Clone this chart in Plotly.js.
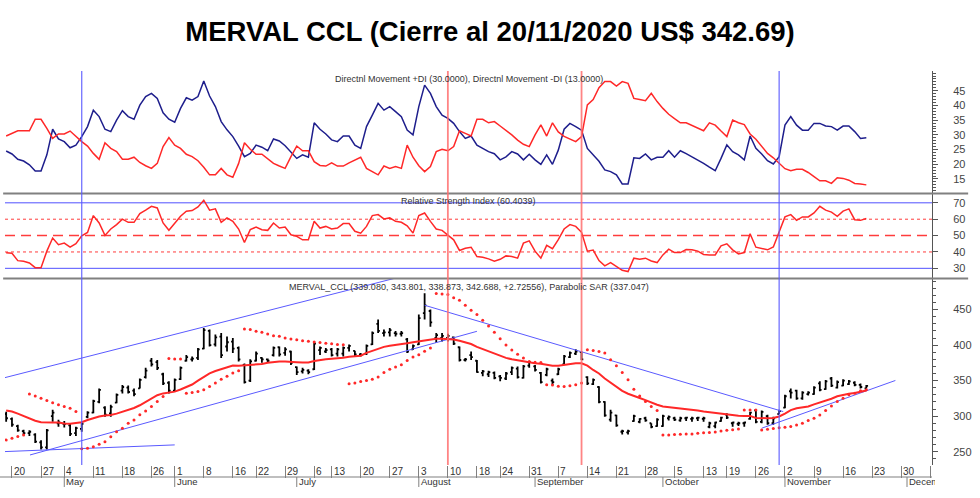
<!DOCTYPE html>
<html>
<head>
<meta charset="utf-8">
<script src="https://cdn.plot.ly/plotly-3.0.1.min.js"></script>
<style>html,body{margin:0;padding:0;background:#fff;}#chart{width:980px;height:498px;}</style>
</head>
<body>
<div id="chart"></div>
<script>
// ---- DATA (trading-day index: -1 = 17 Apr 2020, 0 = 20 Apr 2020 ... 147 = 20 Nov 2020) ----
const firstDay = -1;

const open = [303,296,286,279,276,274,263,256,300,290,289,
287,276,282,299,305,320,312,304,319,336,
340,336,339,355,378,376,359,347,336,352,
378,380,382,395,420,401,412,398,405,396,
372,350,378,382,380,386,397,389,391,369,
363,364,366,393,391,394,388,388,396,392,
387,388,401,430,417,418,417,416,408,394,
401,445,448,410,410,410,411,397,379,386,
378,361,359,361,356,353,362,367,354,371,
370,361,358,350,359,373,383,388,390,355,
345,341,320,295,301,278,277,293,292,297,
290,286,286,297,297,294,297,296,297,296,
285,286,293,302,290,289,290,296,308,292,
300,290,303,312,335,336,325,331,331,346,
338,353,340,343,345,347,344,339.08];

const high = [306,298,288,281,280,276,266,282,309,295,293,
290,285,292,307,323,339,314,316,332,344,
343,339,353,368,382,379,361,349,353,370,
386,384,396,424,422,415,417,412,410,398,
374,380,391,383,381,398,398,397,392,370,
368,366,405,398,396,396,396,398,401,392,
389,401,419,436,422,424,420,420,410,401,
443,473,450,417,417,416,412,398,382,391,
379,365,364,363,358,362,370,370,372,377,
372,362,368,353,368,386,391,394,391,356,
353,342,321,309,302,281,281,302,297,299,
290,297,302,301,299,299,299,299,299,299,
292,292,299,304,292,292,292,306,309,308,
302,299,309,330,339,337,335,335,342,349,
351,355,350,352,351,349,346,343.80];

const low = [292,285,278,273,272,262,253,253,292,285,284,
272,272,278,297,304,318,299,299,318,332,
332,328,339,353,370,365,344,332,335,351,
377,377,379,394,398,398,382,391,389,377,
346,348,377,375,376,384,384,385,372,358,
360,359,365,386,389,384,384,384,391,384,
384,386,400,417,412,412,412,412,389,393,
400,436,426,403,405,405,400,377,377,379,
361,356,355,352,349,351,358,353,353,368,
363,346,356,344,358,372,382,386,379,344,
344,318,299,292,285,274,274,292,290,292,
283,285,285,294,293,292,293,292,293,292,
283,283,292,296,285,286,285,295,290,290,
288,288,303,311,325,323,323,329,330,335,
337,341,339,342,344,342,339,338.87];

const close = [297,288,280,276,278,264,256,280,305,291,289,
275,283,289,305,321,337,302,313,330,341,
334,331,351,364,373,368,346,336,351,368,
383,381,394,421,400,411,386,404,395,380,
348,377,388,380,378,396,387,394,375,362,
365,362,402,396,393,386,394,396,399,387,
386,399,417,420,418,421,416,417,391,399,
438,456,432,414,413,413,402,379,380,383,
362,363,362,354,354,360,368,355,370,376,
365,348,366,348,366,384,389,391,380,346,
351,320,301,305,287,279,279,300,296,294,
285,295,300,299,295,297,298,297,298,297,
290,291,298,298,291,290,291,305,292,306,
290,297,307,328,333,325,333,333,340,337,
349,343,348,350,349,344,341,342.69];

const movingAvg = [308,306.4,303.5,300.3,297,293.5,291.5,290.9,290.9,290.9,289.5,
289.2,290,291.5,294.5,297,299.5,300.8,301.5,303.5,306,
308.5,311.5,315.3,320,325,329.5,332,333,334.5,337.5,
341.5,344.5,350,355.5,360.3,363.5,366.3,369.5,371.2,370.9,
371.5,372.3,373,373.5,375,376.5,377,377,377,376,
375.6,375.6,377.5,379.3,380.2,380.8,381.3,382.3,383.6,384.5,
385,389,392,395,397.5,399,400,400.8,402.5,404,
405.3,407.2,408.5,409,409,408.7,408,406,403.5,401.5,
397.5,394.5,391,387.8,384.5,382,380,378.5,377,375.8,
374.5,373.7,372,370.9,370.9,372,373.6,374.3,374.5,371,
365,360,353,347.5,341.5,335.5,331.5,328,325.6,322.5,
319,316,313.5,312.6,311.8,311.1,310.4,309.5,308,306.5,
305.5,304.5,303,301.8,301,300.5,300.3,300.3,297.5,297,
297,297.5,299.5,303.5,308.5,311,312.5,313.5,316.5,319,
321.6,324.5,328,330,331.5,332.7,334.5,336];

const parabolicSar = [266.5,268.8,271.2,273.5,331,328.5,325.3,322,319,316,313.5,
311,306.5,254,254.7,257,260.3,264,271,278,283,
290,294.7,301.8,307.4,313.5,320.6,327.6,381,380.5,380.3,
332.3,333.3,334.7,337,341.8,346.5,352,356,360.6,364,
422.7,421.8,419.4,418,415.6,413.3,412.4,410,408.6,407.6,
406.2,405.3,404.3,403.5,402.5,402,401,400.5,345.5,346.5,
348.8,350.2,352.1,355,361.5,366,369,372.3,378.4,383.2,
386.5,391.2,395.8,472.5,472.1,471.2,466.5,463.2,456,449,
443,435,427,418,409,400,393,387,381.7,377,
376,375.6,344.1,344,342,341.8,342.7,344.1,346.5,393.5,
392.5,391.1,388.8,379.4,370.9,361.5,351.1,337.9,328.5,320.5,
313.5,307.8,273.5,273.5,274,274.4,274.9,275,275.8,276.5,
277,277.8,279,280,281,282,308.8,308.8,308.5,280.5,
281.5,282.5,283.5,284.3,285.3,287.6,290,293.7,297,301.7,
307.8,314.4,320.5,325.3,330,332.3,335.6,337.0];

const plusDI = [24.5,23.5,21.7,21.1,19.8,17.7,17.7,23.2,31.9,28.6,27.7,
25.6,26.5,29.4,32.8,38.4,36.2,31.9,31.1,35.0,38.2,
36.2,35.3,40.1,43.0,44.1,42.4,37.5,35.3,34.3,39.0,
42.6,41.8,43.0,48.3,43.2,39.6,34.5,31.7,29.4,26.2,
22.6,23.7,26.5,25.8,24.6,28.6,27.9,26.3,24.3,22.0,
23.2,22.4,34.1,31.9,30.3,28.3,27.7,29.6,29.6,26.5,
25.4,32.8,36.7,40.7,38.4,39.6,37.9,36.2,31.6,30.0,
39.6,46.9,44.1,39.6,36.7,35.6,33.9,31.1,28.8,29.6,
26.5,25.4,24.3,23.6,21.5,22.5,24.3,23.5,21.5,23.4,
21.5,20.0,23.2,20.0,24.8,31.9,33.9,32.8,31.6,25.4,
23.2,21.0,18.1,17.5,16.4,13.3,13.3,22.2,22.0,23.5,
21.5,22.4,22.4,24.6,22.4,24.6,23.6,22.5,21.5,20.3,
19.0,17.8,22.0,26.6,24.3,23.2,21.5,29.6,25.4,23.5,
21.2,20.1,22.6,33.3,36.2,33.3,31.6,31.6,33.9,33.9,
33.0,32.8,31.6,33.0,33.0,31.1,28.8,29.0];

const minusDI = [29.6,30.5,31.4,31.4,31.4,35.3,35.3,32.2,28.8,30.3,30.3,
31.3,29.4,27.7,26.2,23.7,21.7,27.3,25.4,24.3,21.7,
21.7,22.4,20.6,19.5,18.6,20.3,26.0,29.1,26.5,25.4,
23.4,22.6,21.2,19.0,16.4,16.4,18.6,16.4,15.6,20.3,
27.3,25.1,23.4,23.4,22.0,20.3,19.4,18.6,22.6,26.2,
24.6,24.6,20.9,19.6,19.4,20.5,19.4,19.4,20.5,21.5,
22.4,18.6,17.5,16.4,19.4,18.6,19.2,18.6,26.5,22.4,
19.5,17.5,19.2,24.3,25.1,24.6,26.0,31.4,30.5,29.6,
35.3,35.3,34.1,34.5,33.0,31.6,30.0,28.2,26.8,26.0,
30.0,33.4,29.6,34.1,31.0,29.5,28.5,27.7,29.4,40.2,
42.0,46.0,48.1,48.1,46.6,48.1,47.5,42.4,42.0,41.6,
44.1,41.3,39.0,37.0,35.5,34.1,34.1,33.2,32.3,31.4,
34.1,33.3,31.3,29.4,35.0,34.1,33.5,30.3,28.5,26.0,
23.7,22.2,20.2,18.5,17.8,18.3,18.3,17.2,15.8,14.4,
14.4,13.5,15.4,15.2,14.6,13.5,13.3,13.0];

const rsi = [39.5,39.2,34.7,34.3,33.3,30.4,30.4,40.5,48.5,44.4,45.4,
42.9,45.0,49.9,51.9,62.2,57.7,50.1,54.0,56.7,60.0,
58.1,58.1,63.4,65.5,67.9,66.9,57.7,53.2,57.7,61.8,
64.9,65.3,67.5,71.6,65.5,66.3,58.1,60.8,58.7,54.0,
45.8,53.6,55.2,53.6,53.2,57.7,54.6,55.2,50.5,49.5,
47.4,47.4,58.7,54.6,55.6,54.0,54.6,57.3,57.3,52.6,
51.5,55.6,62.2,62.8,60.2,60.8,58.7,58.1,56.0,51.5,
62.2,63.8,58.7,54.0,53.2,50.5,47.4,40.9,42.3,42.9,
37.2,36.8,35.8,34.3,35.5,37.6,37.2,36.2,45.4,46.8,
40.5,36.2,44.0,42.0,47.5,54.0,56.7,55.6,52.0,40.5,
41.2,34.7,31.5,33.5,31.4,28.8,28.0,36.2,35.5,36.2,
34.5,33.5,38.2,41.7,39.6,39.6,41.5,41.4,40.5,38.5,
38.2,38.2,43.7,45.0,41.3,38.8,39.6,51.1,42.9,42.3,
41.3,43.0,52.0,61.4,62.8,59.3,61.4,61.4,63.8,67.9,
65.5,64.3,61.8,64.9,66.3,59.7,59.3,60.4];

// drawn trend lines: start/end day index and price
const trendStartDay = [-1.5, 3.1, -1.5, 71, 129];
const trendStartVal = [353.6, 245.3, 250.0, 456.1, 283.0];
const trendEndDay   = [70, 80, 28, 132.7, 152];
const trendEndVal   = [502.7, 419.4, 259.5, 306.4, 350.2];

// signal lines (vertical)
const signalDays = [12, 75, 98, 132];
const signalType = ['buy', 'sell', 'sell', 'buy'];

// x axis: week starts and labels
const weekTickDays = [0,5,9,14,19,24,28,33,38,42,47,52,55,60,65,70,75,80,84,89,94,99,104,109,114,119,123,128,133,138,143,148,153,158];
const weekTickLabels = ['20','27','4','11','18','26','1','8','16','22','29','6','13','20','27','3','10','18','24','31','7','14','21','28','5','13','19','26','2','9','16','23','30',''];
const monthStartDays = [9, 28, 49, 70, 90, 112, 133, 154];
const monthNames = ['May','June','July','August','September','October','November','December'];

const titleText = 'MERVAL CCL (Cierre al 20/11/2020 US$ 342.69)';
const dmiLabel = 'Directnl Movement +DI (30.0000), Directnl Movement -DI (13.0000)';
const rsiLabel = 'Relative Strength Index (60.4039)';
const priceLabel = 'MERVAL_CCL (339.080, 343.801, 338.873, 342.688, +2.72556), Parabolic SAR (337.047)';

// ---- BUILD ----
const x = close.map((_, i) => firstDay + i);
const FONT = 'Liberation Sans, Arial, sans-serif';
const RED = 'rgb(255,40,40)';
const NAVY = 'rgb(30,30,140)';
const BLUE_LINE = 'rgb(90,90,255)';

const trendX = [], trendY = [];
trendStartDay.forEach((d, i) => {
  trendX.push(d, trendEndDay[i], null);
  trendY.push(trendStartVal[i], trendEndVal[i], null);
});

const traces = [
  {type:'scatter', mode:'lines', x:x, y:plusDI, xaxis:'x', yaxis:'y', line:{color:NAVY, width:1.5}, hoverinfo:'skip'},
  {type:'scatter', mode:'lines', x:x, y:minusDI, xaxis:'x', yaxis:'y', line:{color:RED, width:1.5}, hoverinfo:'skip'},
  {type:'scatter', mode:'lines', x:x, y:rsi, xaxis:'x', yaxis:'y2', line:{color:RED, width:1.5}, hoverinfo:'skip'},
  {type:'scatter', mode:'lines', x:trendX, y:trendY, xaxis:'x', yaxis:'y3', line:{color:BLUE_LINE, width:1}, hoverinfo:'skip', connectgaps:false},
  {type:'scatter', mode:'lines', x:x, y:movingAvg, xaxis:'x', yaxis:'y3', line:{color:RED, width:2}, hoverinfo:'skip'},
  {type:'scatter', mode:'markers', x:x, y:parabolicSar, xaxis:'x', yaxis:'y3', marker:{color:RED, size:3}, hoverinfo:'skip'},
  {type:'ohlc', x:x, open:open, high:high, low:low, close:close, xaxis:'x', yaxis:'y3',
   increasing:{line:{color:'#000', width:1.8}}, decreasing:{line:{color:'#000', width:1.8}},
   tickwidth:0.3, hoverinfo:'skip'}
];

const shapes = [];
// RSI reference lines
[[70,'solid','rgb(80,80,255)',1],[30,'solid','rgb(80,80,255)',1],
 [60,'dot','rgb(255,60,60)',1],[40,'dot','rgb(255,60,60)',1],[50,'10px,6px','rgb(255,60,60)',1.5]]
 .forEach(r => shapes.push({type:'line', xref:'paper', yref:'y2', x0:0, x1:1, y0:r[0], y1:r[0], layer:'below',
   line:{color:r[2], width:r[3], dash:r[1]}}));
// panel separators
[0.6891, 0.4734].forEach(p => shapes.push({type:'line', xref:'paper', yref:'paper', x0:-0.002, x1:1.039, y0:p, y1:p,
   line:{color:'#808080', width:2}}));
// x axis bottom line
shapes.push({type:'line', xref:'paper', yref:'paper', x0:-0.006, x1:1, y0:-0.0305, y1:-0.0305, line:{color:'#808080', width:1.2}});
// month separators
monthStartDays.forEach(d => shapes.push({type:'line', xref:'x', yref:'paper', x0:d, x1:d, y0:-0.0305, y1:-0.0558,
   line:{color:'#808080', width:1}}));
// signal vertical lines
signalDays.forEach((d, i) => shapes.push({type:'line', xref:'x', yref:'paper', x0:d, x1:d, y0:0, y1:1, layer:'above',
   line:{color: signalType[i] === 'buy' ? 'rgba(90,90,255,0.85)' : 'rgba(255,110,110,0.85)', width: signalType[i] === 'buy' ? 1.3 : 1.8}}));

const annotations = [];
const smallFont = {family:FONT, size:9, color:'#333'};
annotations.push({text:dmiLabel, xref:'paper', yref:'paper', x:0.5, y:0.9797, showarrow:false, font:smallFont, xanchor:'center', yanchor:'middle'});
annotations.push({text:rsiLabel, xref:'paper', yref:'paper', x:0.5, y:0.670, showarrow:false, font:smallFont, xanchor:'center', yanchor:'middle'});
annotations.push({text:priceLabel, xref:'paper', yref:'paper', x:0.5, y:0.4518, showarrow:false, font:smallFont, xanchor:'center', yanchor:'middle'});
weekTickDays.forEach((d, i) => {
  if (weekTickLabels[i]) annotations.push({text:weekTickLabels[i], xref:'x', yref:'paper', x:d, y:-0.0165, xanchor:'left', yanchor:'middle',
    xshift:0, showarrow:false, font:{family:FONT, size:10, color:'#333'}});
});
monthStartDays.forEach((d, i) => {
  const a = {text:monthNames[i], xref:'x', yref:'paper', x:d, y:-0.0431, xanchor:'left', yanchor:'middle',
    xshift:0, showarrow:false, align:'left', font:{family:FONT, size:9.5, color:'#333'}};
  if (i === monthNames.length - 1) { a.width = 26; }
  annotations.push(a);
});

const yCommon = {side:'right', anchor:'x', showgrid:false, zeroline:false, showline:true, linecolor:'#555', linewidth:1,
  ticks:'outside', ticklen:5, tickcolor:'#555', tickfont:{family:FONT, size:11, color:'#444'}, ticklabelstandoff:13, fixedrange:true};

const layout = {
  width:980, height:498,
  margin:{l:5, r:48, t:71, b:33},
  paper_bgcolor:'#fff', plot_bgcolor:'#fff',
  showlegend:false, hovermode:false,
  font:{family:FONT},
  title:{text:'<b>' + titleText + '</b>', font:{family:FONT, size:27.5, color:'#000'}, x:0.5, xref:'container', xanchor:'center',
    y:0.936, yref:'container', yanchor:'middle'},
  xaxis:{domain:[0,1], range:[-1.2, 158.3], anchor:'y3', showgrid:false, zeroline:false, showline:false,
    tickmode:'array', tickvals:weekTickDays, ticktext:weekTickDays.map(() => ''), showticklabels:false,
    ticks:'outside', ticklen:12, tickcolor:'#808080', tickwidth:1, rangeslider:{visible:false}, fixedrange:true},
  yaxis:Object.assign({}, yCommon, {domain:[0.6891,1], range:[10.07,51.7], tickmode:'array', tickvals:[15,20,25,30,35,40,45],
    minor:{tickmode:'linear', tick0:0, dtick:1, ticks:'outside', ticklen:3, tickcolor:'#555'}}),
  yaxis2:Object.assign({}, yCommon, {domain:[0.4734,0.6891], range:[23.8,75.7], tickmode:'array', tickvals:[30,40,50,60,70]}),
  yaxis3:Object.assign({}, yCommon, {domain:[0,0.4734], range:[231.2,493.8], tickmode:'array', tickvals:[250,300,350,400,450],
    minor:{tickmode:'linear', tick0:0, dtick:10, ticks:'outside', ticklen:3, tickcolor:'#555'}}),
  shapes:shapes,
  annotations:annotations
};

Plotly.newPlot('chart', traces, layout, {displayModeBar:false, staticPlot:true});
</script>
</body>
</html>
